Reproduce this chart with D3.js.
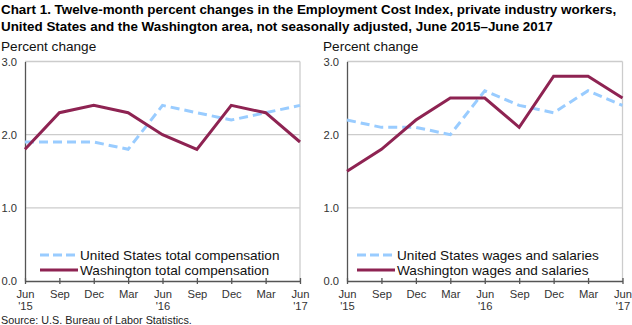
<!DOCTYPE html>
<html><head><meta charset="utf-8">
<script src="https://cdn.jsdelivr.net/npm/d3@7"></script>
<style>
body{margin:0;background:#fff;}
svg{display:block;font-family:"Liberation Sans",Arial,sans-serif;}
</style></head><body>
<svg id="c" width="632" height="325"></svg>
<script>
const months = ["Jun","Sep","Dec","Mar","Jun","Sep","Dec","Mar","Jun"];
const years = ["'15","","","","'16","","","","'17"];
const yTicks = [0.0,1.0,2.0,3.0];
const usTotal = [1.9,1.9,1.9,1.8,2.4,2.3,2.2,2.3,2.4];
const waTotal = [1.8,2.3,2.4,2.3,2.0,1.8,2.4,2.3,1.9];
const usWages = [2.2,2.1,2.1,2.0,2.6,2.4,2.3,2.6,2.4];
const waWages = [1.5,1.8,2.2,2.5,2.5,2.1,2.8,2.8,2.5];
const seriesLabels = [["United States total compensation","Washington total compensation"],["United States wages and salaries","Washington wages and salaries"]];

const svg = d3.select("#c");
const BLUE="#99ccff", MAROON="#8e2352";

svg.append("text").attr("x",1).attr("y",14).attr("font-size",13.4).attr("font-weight","bold").attr("fill","#000")
  .text("Chart 1. Twelve-month percent changes in the Employment Cost Index, private industry workers,");
svg.append("text").attr("x",1).attr("y",31).attr("font-size",13.4).attr("font-weight","bold").attr("fill","#000")
  .text("United States and the Washington area, not seasonally adjusted, June 2015\u2013June 2017");
svg.append("text").attr("x",1).attr("y",324).attr("font-size",10.8).attr("fill","#222")
  .text("Source: U.S. Bureau of Labor Statistics.");

function panel(x0,x1,us,wa,labels,titleX,legX){
  const g = svg.append("g");
  const x = d3.scalePoint().domain(d3.range(months.length)).range([x0,x1]);
  const y = d3.scaleLinear().domain([0,3]).range([281,61.5]);
  g.append("text").attr("x",titleX).attr("y",51).attr("font-size",13.6).attr("fill","#111").text("Percent change");
  g.selectAll(".grid").data(yTicks.filter(d=>d>0)).enter().append("line")
    .attr("x1",x0).attr("x2",x1).attr("y1",d=>y(d)).attr("y2",d=>y(d))
    .attr("stroke","#cccccc").attr("stroke-width",1.3);
  g.append("line").attr("x1",x1).attr("x2",x1).attr("y1",y(3)).attr("y2",y(0)).attr("stroke","#cccccc").attr("stroke-width",1.3);
  const ya = d3.axisLeft(y).tickValues(yTicks).tickFormat(d3.format(".1f")).tickSize(0).tickPadding(8);
  const yg = g.append("g").attr("transform",`translate(${x0},0)`).call(ya);
  yg.select(".domain").attr("stroke","#555").attr("stroke-width",1.3);
  yg.selectAll("text").attr("font-size",11.2).attr("fill","#333").attr("font-family","Liberation Sans, Arial, sans-serif");
  const xa = d3.axisBottom(x).tickSizeInner(3).tickSizeOuter(0).tickFormat(()=> "");
  const xg = g.append("g").attr("transform",`translate(0,${y(0)})`).call(xa);
  xg.select(".domain").attr("stroke","#555").attr("stroke-width",1.3);
  xg.selectAll(".tick line").attr("stroke","#555").attr("stroke-width",1.3).attr("y1",-3).attr("y2",3);
  const lab = xg.selectAll(".tick text").attr("font-size",11.2).attr("fill","#333").attr("font-family","Liberation Sans, Arial, sans-serif").attr("y",0).attr("dy",0);
  lab.each(function(d){
    const t=d3.select(this);
    t.append("tspan").attr("x",0).attr("y",16.5).text(months[d]);
    if(years[d]) t.append("tspan").attr("x",0).attr("y",29).text(years[d]);
  });
  const line = d3.line().x((d,i)=>x(i)).y(d=>y(d));
  g.append("path").datum(us).attr("d",line).attr("fill","none").attr("stroke",BLUE).attr("stroke-width",3).attr("stroke-dasharray","9,5");
  g.append("path").datum(wa).attr("d",line).attr("fill","none").attr("stroke",MAROON).attr("stroke-width",3);
  const leg = [{c:BLUE,d:"9,4",t:labels[0],yy:255},{c:MAROON,d:null,t:labels[1],yy:270}];
  leg.forEach(l=>{
    g.append("line").attr("x1",legX).attr("x2",legX+38).attr("y1",l.yy).attr("y2",l.yy)
      .attr("stroke",l.c).attr("stroke-width",3).attr("stroke-dasharray",l.d);
    g.append("text").attr("x",legX+40).attr("y",l.yy).attr("dy","0.36em").attr("font-size",13.6).attr("fill","#111").text(l.t);
  });
}
panel(25,300,usTotal,waTotal,seriesLabels[0],1,40);
panel(347,622.5,usWages,waWages,seriesLabels[1],323,357);
</script>
</body></html>
